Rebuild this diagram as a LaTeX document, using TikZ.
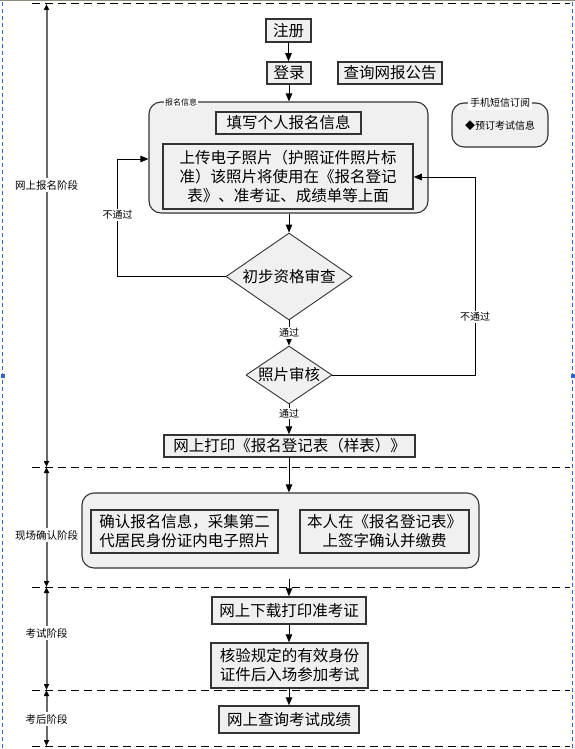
\documentclass[tikz,border=0pt]{standalone}
\usepackage{fontspec}
\setmainfont{Noto Sans CJK SC}
\usetikzlibrary{arrows.meta,shapes.geometric,calc}
\definecolor{boxfill}{HTML}{F0F0F0}
\definecolor{boxline}{HTML}{333333}
\definecolor{stagegray}{HTML}{6A6A6A}
\definecolor{selblue}{HTML}{3366CC}
\definecolor{topgray}{HTML}{8C8C80}
\begin{document}
\begin{tikzpicture}[x=1pt,y=-1pt,
  box/.style={draw=boxline,line width=1.5pt,fill=boxfill,inner sep=0pt,align=center,font=\fontsize{15.5}{19}\selectfont},
  grp/.style={draw=boxline,line width=1.1pt,fill=boxfill,rounded corners=12pt,inner sep=0pt},
  dia/.style={diamond,draw=boxline,line width=0.9pt,fill=boxfill,inner sep=0pt,font=\fontsize{15.5}{19}\selectfont},
  arr/.style={draw=black,line width=0.9pt,-{Triangle[length=8pt,width=6.5pt]}},
  stage/.style={draw=stagegray,line width=2pt,{Triangle[length=6pt,width=5pt,color=black]}-{Triangle[length=6pt,width=5pt,color=black]}},
  slabel/.style={fill=white,inner sep=2pt,font=\fontsize{10.5}{12}\selectfont},
  elabel/.style={fill=white,inner sep=1pt,font=\fontsize{10}{12}\selectfont},
  sep/.style={draw=black,line width=1pt,dash pattern=on 8pt off 5pt},
]
\useasboundingbox (0,0) rectangle (575,749);
% window frame
\fill[topgray] (0,0) rectangle (575,1.5);
\draw[selblue,line width=1pt,dash pattern=on 4pt off 3pt] (2.5,2) -- (2.5,749);
\draw[selblue,line width=1pt,dash pattern=on 4pt off 3pt] (572.5,2) -- (572.5,749);
\fill[selblue] (0.8,374.3) rectangle (4.5,378);
\fill[selblue] (570.8,374.3) rectangle (574.5,378);
% separators
\draw[sep] (32,4) -- (570,4);
\draw[sep] (32,467) -- (570,467);
\draw[sep] (32,587) -- (570,587);
\draw[sep] (32,690) -- (570,690);
\draw[sep] (32,746) -- (570,746);
% stages
\coordinate (s0) at (46.5,4);
\coordinate (s1) at (46.5,467);
\coordinate (s2) at (46.5,587);
\coordinate (s3) at (46.5,690);
\coordinate (s4) at (46.5,746);
\draw[stage] (s0) -- (s1);
\draw[stage] (s1) -- (s2);
\draw[stage] (s2) -- (s3);
\draw[stage] (s3) -- (s4);
\node[slabel] (st1) at (46.5,185) {网上报名阶段};
\node[slabel,inner xsep=4pt] (st2) at (46.5,535) {现场确认阶段};
\node[slabel] (st3) at (46.5,633) {考试阶段};
\node[slabel] (st4) at (46.5,719) {考后阶段};
% top boxes
\node[box,minimum width=45pt,minimum height=23pt] (zc) at (288.5,30.5) {注册};
\node[box,minimum width=44pt,minimum height=22pt] (dl) at (289,73) {登录};
\node[box,minimum width=104pt,minimum height=22pt] (gg) at (390,73) {查询网报公告};
% group 1
\node[grp,minimum width=279pt,minimum height=111pt] (g1) at (288.5,157.5) {};
\node[fill=white,inner sep=1pt,font=\fontsize{8}{9}\selectfont] (g1lab) at (181,102) {报名信息};
\node[box,minimum width=145pt,minimum height=22pt] (tx) at (288.5,123) {填写个人报名信息};
\node[box,minimum width=250pt,minimum height=65pt] (up) at (288,176.5) {上传电子照片（护照证件照片标\\准）该照片将使用在《报名登记\\表》、准考证、成绩单等上面};
% sms group
\node[grp,minimum width=96pt,minimum height=44pt] (sms) at (500,125) {};
\node[fill=white,inner sep=2pt,font=\fontsize{10}{12}\selectfont] (smslab) at (500,103) {手机短信订阅};
\node[font=\fontsize{10}{12}\selectfont] (smsitem) at (500,125.5) {◆预订考试信息};
% diamonds
\node[dia,aspect=1.45,minimum width=126pt,minimum height=87pt] (d1) at (289,276.5) {初步资格审查};
\node[dia,aspect=1.48,minimum width=86pt,minimum height=58pt] (d2) at (289,375) {照片审核};
\node[box,minimum width=251pt,minimum height=22pt] (pr) at (289.5,446) {网上打印《报名登记表（样表）》};
% group 2
\node[grp,minimum width=397pt,minimum height=75pt] (g2) at (280.5,530.5) {};
\node[box,minimum width=187pt,minimum height=43pt] (qa) at (184.5,531.5) {确认报名信息，采集第二\\代居民身份证内电子照片};
\node[box,minimum width=169pt,minimum height=43pt] (qb) at (384.5,531.5) {本人在《报名登记表》\\上签字确认并缴费};
% exam
\node[box,minimum width=154pt,minimum height=27pt] (xz) at (289,610.5) {网上下载打印准考证};
\node[box,minimum width=157pt,minimum height=45pt] (hy) at (289.5,665.5) {核验规定的有效身份\\证件后入场参加考试};
\node[box,minimum width=140pt,minimum height=27pt] (cj) at (289,719.5) {网上查询考试成绩};
% connectors
\draw[arr] (zc.south) -- (zc.south |- dl.north);
\draw[arr] (dl.south) -- (dl.south |- g1.north);
\draw[arr] (d1.north |- g1.south) -- (d1.north);
\draw[arr] (d1.south) -- node[elabel] {通过} (d2.north);
\draw[arr] (d2.south) -- node[elabel,pos=0.3] {通过} (d2.south |- pr.north);
\draw[arr] (d2.south |- pr.south) -- (d2.south |- g2.north);
\draw[arr,shorten <=10pt] (xz.north |- g2.south) -- (xz.north);
\draw[arr] (xz.south) -- (xz.south |- hy.north);
\draw[arr] (xz.south |- hy.south) -- (xz.south |- cj.north);
\coordinate (lc) at (117.5,159);
\draw[arr] (d1.west) -| (lc) -- (lc -| g1.west);
\node[elabel] (nl) at (117.5,215) {不通过};
\coordinate (rc) at (475,177);
\draw[arr] (d2.east) -| (rc) -- (rc -| up.east);
\node[elabel] (nr) at (475,317) {不通过};
\end{tikzpicture}
\end{document}
